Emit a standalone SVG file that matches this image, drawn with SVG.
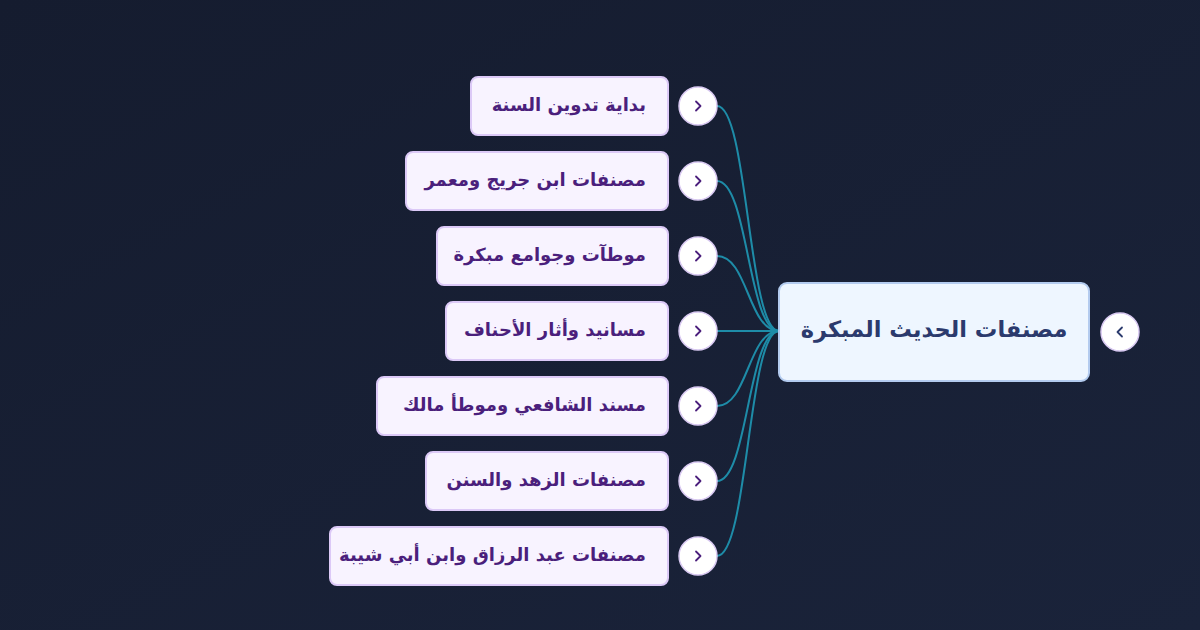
<svg xmlns="http://www.w3.org/2000/svg" width="1200" height="630" viewBox="0 0 1200 630">
  <defs>
    <linearGradient id="bg" x1="0" y1="0" x2="1" y2="1">
      <stop offset="0" stop-color="#151c2f"/>
      <stop offset="1" stop-color="#1a233a"/>
    </linearGradient>
    <marker id="arr" viewBox="0 0 6 6" refX="5" refY="3" markerWidth="5" markerHeight="5" orient="auto" markerUnits="userSpaceOnUse">
      <path d="M0,0 L6,3 L0,6 Z" fill="#1e8ca8"/>
    </marker>
    <style>
      .child rect.box { fill: #f8f3ff; stroke: #dcc9f7; stroke-width: 2; }
      .child text { font-family: "DejaVu Sans", "Noto Sans", sans-serif; font-weight: bold; font-size: 18px; fill: #4b1f7c; }
      .btn { fill: #ffffff; stroke: #d9c9f2; stroke-width: 1.5; }
      .chev { fill: none; stroke: #4b1f7c; stroke-width: 1.8; stroke-linecap: round; stroke-linejoin: round; }
      .conn path { fill: none; stroke: #1e8ca8; stroke-width: 2; }
    </style>
  </defs>
  <rect width="1200" height="630" fill="url(#bg)"/>

  <g id="connectors" class="conn">
    <path d="M717,106 C748,106 748,331 779,331"/>
    <path d="M717,181 C748,181 748,331 779,331"/>
    <path d="M717,256 C748,256 748,331 779,331"/>
    <path d="M717,331 L779,331" marker-end="url(#arr)"/>
    <path d="M717,406 C748,406 748,331 779,331"/>
    <path d="M717,481 C748,481 748,331 779,331"/>
    <path d="M717,556 C748,556 748,331 779,331"/>
  </g>

  <g id="root">
    <rect x="779" y="283" width="310" height="98" rx="8" fill="#eef6ff" stroke="#b3cbef" stroke-width="2"/>
    <text x="934" y="329" text-anchor="middle" dominant-baseline="central" direction="rtl" font-family="DejaVu Sans, Noto Sans, sans-serif" font-weight="bold" font-size="22.5" fill="#2b3a6d">مصنفات الحديث المبكرة</text>
    <circle cx="1120" cy="332" r="19" fill="#ffffff" stroke="#d9c9f2" stroke-width="1.5"/>
    <path d="M1122,327.5 L1117.5,332 L1122,336.5" fill="none" stroke="#2b3a6d" stroke-width="1.8" stroke-linecap="round" stroke-linejoin="round"/>
  </g>

  <g id="n1" class="child">
    <rect class="box" x="471" y="77" width="197" height="58" rx="7"/>
    <text x="646" y="104" direction="rtl" text-anchor="start" dominant-baseline="central">بداية تدوين السنة</text>
    <circle class="btn" cx="698" cy="106" r="19"/>
    <path class="chev" d="M696,101.5 L700.5,106 L696,110.5"/>
  </g>
  <g id="n2" class="child">
    <rect class="box" x="406" y="152" width="262" height="58" rx="7"/>
    <text x="646" y="179" direction="rtl" text-anchor="start" dominant-baseline="central">مصنفات ابن جريج ومعمر</text>
    <circle class="btn" cx="698" cy="181" r="19"/>
    <path class="chev" d="M696,176.5 L700.5,181 L696,185.5"/>
  </g>
  <g id="n3" class="child">
    <rect class="box" x="437" y="227" width="231" height="58" rx="7"/>
    <text x="646" y="254" direction="rtl" text-anchor="start" dominant-baseline="central">موطآت وجوامع مبكرة</text>
    <circle class="btn" cx="698" cy="256" r="19"/>
    <path class="chev" d="M696,251.5 L700.5,256 L696,260.5"/>
  </g>
  <g id="n4" class="child">
    <rect class="box" x="446" y="302" width="222" height="58" rx="7"/>
    <text x="646" y="329" direction="rtl" text-anchor="start" dominant-baseline="central">مسانيد وأثار الأحناف</text>
    <circle class="btn" cx="698" cy="331" r="19"/>
    <path class="chev" d="M696,326.5 L700.5,331 L696,335.5"/>
  </g>
  <g id="n5" class="child">
    <rect class="box" x="377" y="377" width="291" height="58" rx="7"/>
    <text x="646" y="404" direction="rtl" text-anchor="start" dominant-baseline="central">مسند الشافعي وموطأ مالك</text>
    <circle class="btn" cx="698" cy="406" r="19"/>
    <path class="chev" d="M696,401.5 L700.5,406 L696,410.5"/>
  </g>
  <g id="n6" class="child">
    <rect class="box" x="426" y="452" width="242" height="58" rx="7"/>
    <text x="646" y="479" direction="rtl" text-anchor="start" dominant-baseline="central">مصنفات الزهد والسنن</text>
    <circle class="btn" cx="698" cy="481" r="19"/>
    <path class="chev" d="M696,476.5 L700.5,481 L696,485.5"/>
  </g>
  <g id="n7" class="child">
    <rect class="box" x="330" y="527" width="338" height="58" rx="7"/>
    <text x="646" y="554" direction="rtl" text-anchor="start" dominant-baseline="central">مصنفات عبد الرزاق وابن أبي شيبة</text>
    <circle class="btn" cx="698" cy="556" r="19"/>
    <path class="chev" d="M696,551.5 L700.5,556 L696,560.5"/>
  </g>
</svg>
